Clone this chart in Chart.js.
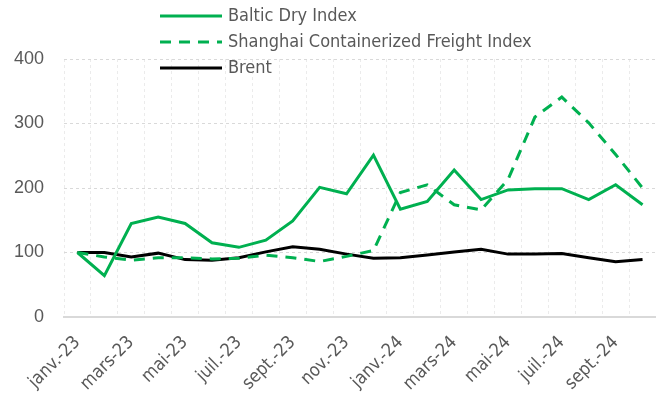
<!DOCTYPE html>
<html>
<head>
<meta charset="utf-8">
<script src="https://cdn.jsdelivr.net/npm/chart.js@4.4.1/dist/chart.umd.min.js"></script>
<style>
  html, body { margin: 0; padding: 0; background: #fff; }
  #wrap { width: 656px; height: 403px; position: relative; }
</style>
</head>
<body>
<div id="wrap"><canvas id="freightChart"></canvas></div>
<script>
const months = ['janv.-23', 'févr.-23', 'mars-23', 'avr.-23', 'mai-23', 'juin-23', 'juil.-23', 'août-23',
  'sept.-23', 'oct.-23', 'nov.-23', 'déc.-23', 'janv.-24', 'févr.-24', 'mars-24', 'avr.-24',
  'mai-24', 'juin-24', 'juil.-24', 'août-24', 'sept.-24', 'oct.-24'];
const balticDry = [100, 64, 145, 155, 145, 115, 108, 119, 149, 201, 191, 251, 167, 179, 228, 182, 197, 199, 199, 182, 205, 174];
const shanghaiFreight = [100, 93, 88, 92, 92, 90, 91, 96, 92, 86, 94, 103, 193, 205, 174, 166, 213, 310, 341, 301, 252, 200];
const brent = [100, 100, 93, 99, 89, 88, 92, 101, 109, 105, 97.5, 91, 92, 96, 100.6, 105, 97.5, 97.5, 98.6, 92, 85.5, 89];
const yTicks = [0, 100, 200, 300, 400];

const green = 'rgb(0, 176, 80)';
const textGrey = '#595959';
const narrow = '"Liberation Sans Narrow", "DejaVu Sans Condensed", sans-serif';

// legend sits over the top of the plot, like in the original
const overlayLegend = {
  id: 'overlayLegend',
  afterDraw(chart) {
    const ctx = chart.ctx;
    ctx.save();
    ctx.font = '18px ' + narrow;
    ctx.textBaseline = 'middle';
    chart.data.datasets.forEach((ds, i) => {
      const y = 16 + i * 26;
      ctx.strokeStyle = ds.borderColor;
      ctx.lineWidth = ds.borderWidth;
      ctx.setLineDash(ds.borderDash || []);
      ctx.beginPath();
      ctx.moveTo(160, y);
      ctx.lineTo(222, y);
      ctx.stroke();
      ctx.fillStyle = textGrey;
      ctx.fillText(ds.label, 228, y);
    });
    ctx.restore();
  }
};

new Chart(document.getElementById('freightChart'), {
  type: 'line',
  data: {
    labels: months,
    datasets: [{
      label: 'Baltic Dry Index',
      data: balticDry,
      borderColor: green,
      borderWidth: 3
    }, {
      label: 'Shanghai Containerized Freight Index',
      data: shanghaiFreight,
      borderColor: green,
      borderWidth: 3,
      borderDash: [11, 8]
    }, {
      label: 'Brent',
      data: brent,
      borderColor: '#000',
      borderWidth: 3
    }]
  },
  options: {
    responsive: true,
    maintainAspectRatio: false,
    animation: false,
    events: [],
    layout: { padding: { top: 59, left: 0, right: 0, bottom: 0 } },
    elements: { point: { radius: 0 }, line: { tension: 0, borderCapStyle: 'butt' } },
    plugins: { legend: { display: false }, tooltip: { enabled: false } },
    scales: {
      x: {
        offset: true,
        grid: { offset: true, color: '#ebebeb', drawTicks: false },
        border: { display: true, color: '#d9d9d9', width: 2, dash: [3, 3] },
        ticks: {
          autoSkip: false,
          minRotation: 45,
          maxRotation: 45,
          padding: 15,
          color: textGrey,
          font: { family: narrow, size: 18 },
          callback: function(value, index) { return index % 2 === 0 ? months[index] : ''; }
        },
        afterFit: function(scale) {
          scale.height = 86;
          scale.paddingRight = 0;
          scale.paddingLeft = 0;
        }
      },
      y: {
        min: 0,
        max: 400,
        afterBuildTicks: function(scale) { scale.ticks = yTicks.map(v => ({ value: v })); },
        grid: { color: '#d9d9d9', drawTicks: false },
        border: { display: false, dash: [3, 3] },
        ticks: {
          padding: 20,
          color: textGrey,
          font: { family: '"Liberation Sans", Arial, sans-serif', size: 18 }
        },
        afterFit: function(scale) { scale.width = 64; }
      }
    }
  },
  plugins: [overlayLegend]
});
</script>
</body>
</html>
